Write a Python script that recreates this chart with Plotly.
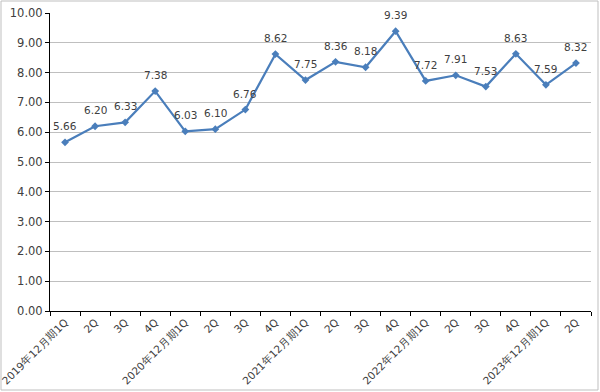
import plotly.graph_objects as go

labels = ["2019年12月期1Q", "2Q", "3Q", "4Q",
          "2020年12月期1Q", "2Q", "3Q", "4Q",
          "2021年12月期1Q", "2Q", "3Q", "4Q",
          "2022年12月期1Q", "2Q", "3Q", "4Q",
          "2023年12月期1Q", "2Q"]
values = [5.66, 6.20, 6.33, 7.38, 6.03, 6.10, 6.76, 8.62, 7.75, 8.36,
          8.18, 9.39, 7.72, 7.91, 7.53, 8.63, 7.59, 8.32]
y_ticks = [0, 1, 2, 3, 4, 5, 6, 7, 8, 9, 10]

x_idx = list(range(len(values)))
FONT = "DejaVu Sans, Verdana, sans-serif"
TXT = "#404040"

fig = go.Figure()
fig.add_trace(go.Scatter(
    x=x_idx, y=values, mode="lines+markers",
    line=dict(color="#4A7EBB", width=2.2),
    marker=dict(symbol="diamond", size=6, color="#4A7EBB"),
    hoverinfo="skip", showlegend=False,
))
for xi, v in zip(x_idx, values):
    fig.add_annotation(x=xi, y=v, text=f"{v:.2f}", showarrow=False,
                       yshift=16, font=dict(family=FONT, size=10.5, color=TXT))

L, R, T, B = 50, 9, 13, 81
W, H = 600, 392
pw, ph = W - L - R, H - T - B
fig.add_shape(type="rect", xref="paper", yref="paper",
              x0=(1 - L) / pw, x1=(W - 2 - L) / pw,
              y0=((H - B) - (H - 2)) / ph, y1=((H - B) - 1) / ph,
              line=dict(color="#BFBFBF", width=1), layer="below")

fig.update_layout(
    width=W, height=H,
    margin=dict(l=L, r=R, t=T, b=B, autoexpand=False),
    paper_bgcolor="white", plot_bgcolor="white",
    font=dict(family=FONT, color=TXT),
    xaxis=dict(
        range=[-0.5, len(values) - 0.5],
        tickmode="array", tickvals=x_idx, ticktext=labels,
        tickangle=-45, tickfont=dict(size=10.5, color=TXT),
        ticklabeloverflow="allow", automargin=False,
        showgrid=False, zeroline=False,
        showline=True, linecolor="#000000", linewidth=1,
        ticks="",
        minor=dict(tick0=-0.5, dtick=1, ticks="outside", ticklen=4,
                   tickcolor="#000000", showgrid=False),
    ),
    yaxis=dict(
        range=[0, 10], tickvals=y_ticks,
        ticktext=[f"{t:.2f}" for t in y_ticks],
        tickfont=dict(size=11.5, color=TXT), automargin=False,
        showgrid=True, gridcolor="#BFBFBF", gridwidth=1,
        zeroline=False, showline=True, linecolor="#000000", linewidth=1,
        ticks="outside", ticklen=4, tickcolor="#000000",
    ),
)

fig.write_html("out.html", config={"displayModeBar": False},
               post_script="document.body.style.margin='0';document.body.style.overflow='hidden';")
